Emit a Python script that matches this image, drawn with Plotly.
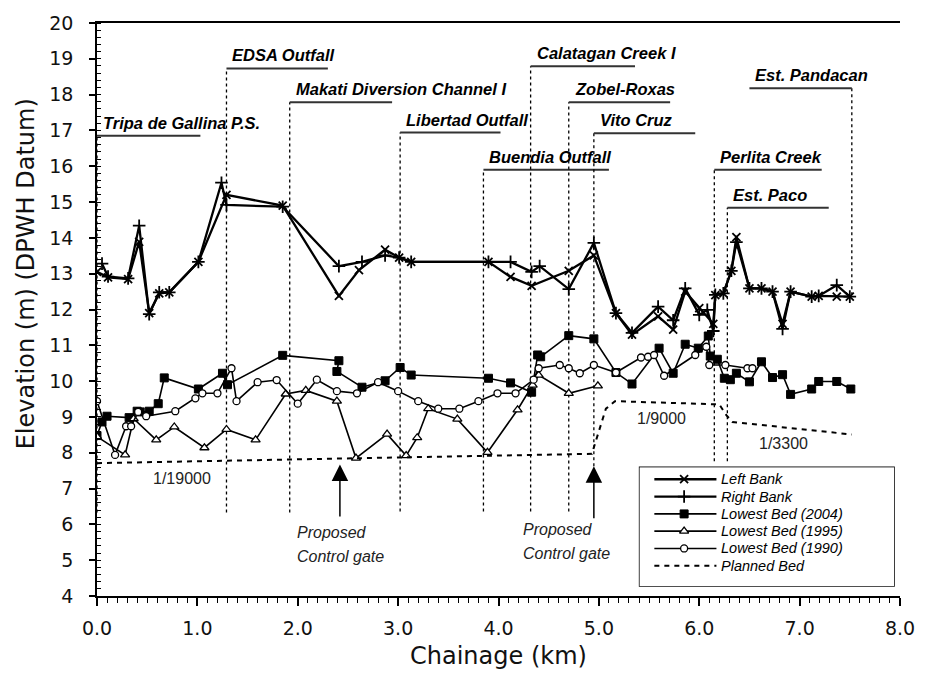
import plotly.graph_objects as go

# ---------------- data ----------------
left_x = [0.00, 0.11, 0.31, 0.42, 0.52, 0.62, 0.72, 1.01, 1.29, 1.85, 2.41, 2.61, 2.87, 3.01, 3.13, 3.90, 4.12,
          4.33, 4.70, 4.95, 5.17, 5.33, 5.59, 5.74, 5.86, 6.00, 6.14, 6.16, 6.24, 6.32, 6.37, 6.50, 6.62, 6.73,
          6.83, 6.91, 7.12, 7.19, 7.37, 7.50]
left_y = [13.05, 12.90, 12.85, 13.89, 11.90, 12.45, 12.48, 13.33, 15.20, 14.90, 12.38, 13.10, 13.67, 13.45, 13.33,
          13.33, 12.91, 12.66, 13.08, 13.51, 11.90, 11.30, 11.81, 11.44, 12.50, 12.04, 11.60, 12.40, 12.45, 13.08,
          14.02, 12.59, 12.59, 12.50, 11.60, 12.50, 12.36, 12.38, 12.36, 12.36]

right_x = [0.05, 0.11, 0.31, 0.42, 0.52, 0.62, 0.72, 1.01, 1.24, 1.29, 1.85, 2.41, 2.64, 2.87, 3.01, 3.13, 3.90,
           4.12, 4.33, 4.41, 4.70, 4.95, 5.17, 5.33, 5.59, 5.74, 5.86, 6.00, 6.08, 6.14, 6.16, 6.24, 6.32, 6.37,
           6.50, 6.62, 6.73, 6.83, 6.91, 7.12, 7.19, 7.37, 7.50]
right_y = [13.28, 12.92, 12.87, 14.34, 11.87, 12.48, 12.48, 13.33, 15.54, 14.92, 14.87, 13.21, 13.33, 13.51, 13.45,
           13.33, 13.33, 13.33, 13.05, 13.21, 12.57, 13.86, 11.90, 11.35, 12.08, 11.70, 12.59, 11.85, 11.99, 11.40,
           12.41, 12.45, 13.08, 13.88, 12.59, 12.59, 12.50, 11.46, 12.50, 12.36, 12.38, 12.68, 12.36]

bed2004_x = [0.00, 0.05, 0.10, 0.32, 0.40, 0.43, 0.52, 0.61, 0.67, 1.01, 1.25, 1.30, 1.85, 2.41, 2.39, 2.64, 2.87,
             3.02, 3.13, 3.90, 4.12, 4.33, 4.39, 4.42, 4.70, 4.95, 5.17, 5.33, 5.60, 5.74, 5.86, 5.99, 6.09, 6.11,
             6.18, 6.25, 6.31, 6.37, 6.50, 6.62, 6.73, 6.83, 6.91, 7.12, 7.19, 7.37, 7.51]
bed2004_y = [8.48, 8.86, 9.02, 8.98, 9.16, 9.14, 9.16, 9.37, 10.09, 9.78, 10.22, 9.90, 10.72, 10.57, 10.27, 9.83,
             10.01, 10.38, 10.17, 10.08, 9.95, 9.69, 10.73, 10.68, 11.27, 11.18, 10.24, 9.92, 10.92, 10.22, 11.03,
             10.92, 11.26, 10.70, 10.61, 10.08, 10.04, 10.22, 9.98, 10.54, 10.10, 10.18, 9.63, 9.78, 9.99, 9.99, 9.78]

bed1995_x = [0.00, 0.28, 0.365, 0.59, 0.77, 1.07, 1.29, 1.58, 1.88, 2.08, 2.39, 2.58, 2.89, 3.08, 3.19, 3.30, 3.59,
             3.89, 4.19, 4.34, 4.40, 4.70, 4.99]
bed1995_y = [8.45, 7.94, 8.95, 8.36, 8.72, 8.14, 8.65, 8.36, 9.64, 9.74, 9.44, 7.85, 8.52, 7.92, 8.42, 9.23, 8.94,
             8.01, 9.20, 9.89, 10.17, 9.66, 9.87]

bed1990_x = [0.00, 0.18, 0.29, 0.34, 0.41, 0.49, 0.78, 0.98, 1.05, 1.20, 1.34, 1.39, 1.60, 1.79, 2.00, 2.19, 2.39,
             2.59, 2.80, 3.00, 3.20, 3.40, 3.61, 3.80, 3.99, 4.17, 4.35, 4.40, 4.61, 4.70, 4.81, 4.95, 5.17, 5.42,
             5.49, 5.55, 5.65, 5.96, 6.07, 6.10, 6.26, 6.48, 6.53]
bed1990_y = [9.44, 7.94, 8.74, 8.74, 9.14, 9.02, 9.16, 9.52, 9.66, 9.66, 10.36, 9.44, 9.97, 10.03, 9.37, 10.04, 9.72,
             9.66, 9.97, 9.72, 9.44, 9.23, 9.23, 9.44, 9.66, 9.66, 10.04, 10.36, 10.45, 10.36, 10.22, 10.45, 10.24,
             10.66, 10.68, 10.73, 10.15, 10.73, 10.96, 10.45, 10.45, 10.36, 10.36]

planned_x = [0.00, 4.93, 5.07, 5.16, 6.20, 6.27, 6.33, 7.52]
planned_y = [7.71, 7.97, 9.23, 9.44, 9.35, 9.05, 8.86, 8.51]

# structures along the river
struct_names = ["Tripa de Gallina P.S.", "EDSA Outfall", "Makati Diversion Channel I", "Libertad Outfall",
                "Buendia Outfall", "Calatagan Creek I", "Zobel-Roxas", "Vito Cruz", "Perlita Creek",
                "Est. Paco", "Est. Pandacan"]
struct_vx = [0.00, 1.29, 1.92, 3.02, 3.85, 4.32, 4.70, 4.95, 6.15, 6.28, 7.52]
struct_lx0 = [0.00, 1.29, 1.92, 3.02, 3.85, 4.32, 4.70, 4.95, 6.15, 6.28, 6.50]
struct_lx1 = [1.03, 2.30, 2.94, 4.02, 5.10, 5.36, 5.71, 5.96, 7.22, 7.29, 7.52]
struct_top = [16.85, 18.73, 17.79, 16.94, 15.90, 18.79, 17.79, 16.92, 15.90, 14.84, 18.18]
struct_bot = [6.33, 6.33, 6.33, 6.36, 6.36, 6.36, 6.36, 7.62, 7.76, 7.76, 12.40]

slope_text = ["1/19000", "1/9000", "1/3300"]
slope_x = [0.85, 5.62, 6.84]
slope_y = [7.27, 8.97, 8.26]

gate_x = [2.42, 4.95]
gate_head = [7.67, 7.62]
gate_tail = [6.18, 6.13]
gate_text_x = [1.97, 4.22]
gate_text_y1 = [5.77, 5.85]
gate_text_y2 = [5.10, 5.19]

x_ticks = [0, 1, 2, 3, 4, 5, 6, 7, 8]

# ---------------- styles ----------------
BLACK = "black"
series = [
    dict(name="Left Bank", x=left_x, y=left_y, line=dict(color=BLACK, width=2.3),
         marker=dict(symbol="x-thin", size=8, line=dict(color=BLACK, width=1.8)), mode="lines+markers"),
    dict(name="Right Bank", x=right_x, y=right_y, line=dict(color=BLACK, width=2.3),
         marker=dict(symbol="cross-thin", size=9, line=dict(color=BLACK, width=1.8)), mode="lines+markers"),
    dict(name="Lowest Bed (2004)", x=bed2004_x, y=bed2004_y, line=dict(color=BLACK, width=1.6),
         marker=dict(symbol="square", size=8, color=BLACK, line=dict(color=BLACK, width=1)), mode="lines+markers"),
    dict(name="Lowest Bed (1995)", x=bed1995_x, y=bed1995_y, line=dict(color=BLACK, width=1.6),
         marker=dict(symbol="triangle-up", size=8, color="white", line=dict(color=BLACK, width=1.3)),
         mode="lines+markers"),
    dict(name="Lowest Bed (1990)", x=bed1990_x, y=bed1990_y, line=dict(color=BLACK, width=1.6),
         marker=dict(symbol="circle", size=7, color="white", line=dict(color=BLACK, width=1.3)),
         mode="lines+markers"),
    dict(name="Planned Bed", x=planned_x, y=planned_y, line=dict(color=BLACK, width=2, dash="5px,5px"),
         mode="lines"),
]

fig = go.Figure()

# structures: vertical dotted lines + horizontal label lines
shapes = []
annotations = []
for name, vx, lx0, lx1, top, bot in zip(struct_names, struct_vx, struct_lx0, struct_lx1, struct_top, struct_bot):
    shapes.append(dict(type="line", xref="x", yref="y", x0=vx, x1=vx, y0=bot, y1=top,
                       line=dict(color=BLACK, width=1.3, dash="dot"), layer="below"))
    shapes.append(dict(type="line", xref="x", yref="y", x0=lx0, x1=lx1, y0=top, y1=top,
                       line=dict(color="#333333", width=2), layer="below"))
    annotations.append(dict(text="<b><i>%s</i></b>" % name, x=lx0, y=top, xref="x", yref="y",
                            xanchor="left", yanchor="bottom", showarrow=False, xshift=4, yshift=2,
                            font=dict(family="Liberation Sans", size=16.5, color=BLACK)))

for s in series:
    fig.add_trace(go.Scatter(x=s["x"], y=s["y"], mode=s["mode"], line=s["line"],
                             marker=s.get("marker"), name=s["name"], showlegend=False, hoverinfo="skip"))

# slope labels
for t, x, y in zip(slope_text, slope_x, slope_y):
    annotations.append(dict(text=t, x=x, y=y, xref="x", yref="y", showarrow=False,
                            font=dict(family="Liberation Sans", size=16, color="#222222")))

# control gates
for gx, gh, gt, tx, ty1, ty2 in zip(gate_x, gate_head, gate_tail, gate_text_x, gate_text_y1, gate_text_y2):
    annotations.append(dict(x=gx, y=gh, ax=gx, ay=gt, xref="x", yref="y", axref="x", ayref="y",
                            showarrow=True, arrowhead=2, arrowsize=2.2, arrowwidth=1.5, arrowcolor=BLACK, text=""))
    annotations.append(dict(text="<i>Proposed</i>", x=tx, y=ty1, xref="x", yref="y", xanchor="left",
                            showarrow=False, font=dict(family="Liberation Sans", size=16, color="#222222")))
    annotations.append(dict(text="<i>Control gate</i>", x=tx, y=ty2, xref="x", yref="y", xanchor="left",
                            showarrow=False, font=dict(family="Liberation Sans", size=16, color="#222222")))

# manual legend (box in paper coords, samples on an overlay axis with 0..1 range)
L_X0, L_X1, L_Y0, L_Y1 = 0.6757, 0.9926, 0.0173, 0.2245
shapes.append(dict(type="rect", xref="paper", yref="paper", x0=L_X0, x1=L_X1, y0=L_Y0, y1=L_Y1,
                   line=dict(color=BLACK, width=1.5), fillcolor="white", layer="below"))
row_y = [0.900, 0.754, 0.608, 0.463, 0.317, 0.171]
for s, ry in zip(series, row_y):
    fig.add_trace(go.Scatter(x=[0.058, 0.302], y=[ry, ry], mode="lines", line=s["line"],
                             xaxis="x2", yaxis="y2", showlegend=False, hoverinfo="skip"))
    if "marker" in s:
        fig.add_trace(go.Scatter(x=[0.175], y=[ry], mode="markers", marker=s["marker"],
                                 xaxis="x2", yaxis="y2", showlegend=False, hoverinfo="skip"))
    annotations.append(dict(text="<i>%s</i>" % s["name"], x=0.315, y=ry, xref="x2", yref="y2",
                            xanchor="left", yanchor="middle", showarrow=False, borderpad=0,
                            font=dict(family="Liberation Sans", size=14.5, color=BLACK)))

# axis titles
annotations.append(dict(text="Elevation (m) (DPWH Datum)", textangle=-90, xref="paper", yref="paper",
                        x=-0.0885, y=0.563, xanchor="center", yanchor="middle", showarrow=False,
                        font=dict(family="DejaVu Sans", size=24, color="#111111")))
annotations.append(dict(text="Chainage (km)", xref="paper", yref="paper", x=0.5, y=-0.104,
                        xanchor="center", yanchor="middle", showarrow=False,
                        font=dict(family="DejaVu Sans", size=24, color="#111111")))

fig.update_layout(
    width=927, height=680, margin=dict(l=97, r=16, t=17, b=84),
    plot_bgcolor="white", paper_bgcolor="white", showlegend=False,
    shapes=shapes, annotations=annotations,
    xaxis=dict(range=[0, 8], tickvals=x_ticks, tickformat=".1f", ticks="outside", ticklen=8, tickwidth=1.5,
               tickcolor=BLACK, showline=True, linecolor=BLACK, linewidth=1.5, mirror=True,
               showgrid=False, zeroline=False, ticklabelstandoff=6,
               tickfont=dict(family="DejaVu Sans", size=19, color="#111111"),
               minor=dict(dtick=0.1, ticks="outside", ticklen=5, tickwidth=1, tickcolor=BLACK)),
    yaxis=dict(range=[4, 20], dtick=1, ticks="outside", ticklen=6, tickwidth=1.5, tickcolor=BLACK,
               showline=True, linecolor=BLACK, linewidth=1.5, showgrid=False, zeroline=False,
               ticklabelstandoff=12,
               tickfont=dict(family="DejaVu Sans", size=19, color="#111111"),
               minor=dict(dtick=0.2, ticks="inside", ticklen=4, tickwidth=1, tickcolor=BLACK)),
    xaxis2=dict(domain=[L_X0, L_X1], range=[0, 1], visible=False, anchor="y2"),
    yaxis2=dict(domain=[L_Y0, L_Y1], range=[0, 1], visible=False, anchor="x2"),
)

fig.write_html("out.html")
